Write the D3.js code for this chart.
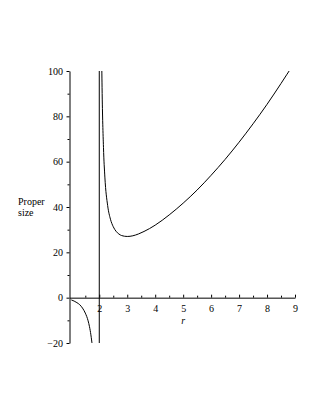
<!DOCTYPE html>
<html>
<head>
<meta charset="utf-8">
<script src="https://cdn.jsdelivr.net/npm/d3@7"></script>
<style>
  body { margin: 0; background: #fff; }
  svg { display: block; }
  .axis text { font-family: "Liberation Serif", "Times New Roman", serif; font-size: 10px; fill: #000; }
  .axis path, .axis line { stroke: #000; stroke-width: 1; }
</style>
</head>
<body>
<svg id="chart" width="321" height="415"></svg>
<script>
// values
var left_r    = [1, 1.1, 1.2, 1.3, 1.4, 1.5, 1.6, 1.65, 1.7, 1.75, 1.78];
var left_size = [-1, -1.5, -2.2, -3.1, -4.6, -6.8, -10.2, -12.8, -16.4, -21.4, -25.6];

var right_r    = [2.06, 2.08, 2.1, 2.15, 2.2, 2.3, 2.4, 2.5, 2.6, 2.7, 2.8, 3.0, 3.2, 3.4, 3.6, 3.8, 4, 4.5, 5, 5.5, 6, 6.5, 7, 7.5, 8, 8.5, 8.7, 8.8, 8.9];
var right_size = [145.7, 112.5, 92.6, 66.3, 53.2, 40.6, 34.6, 31.3, 29.3, 28.1, 27.4, 27, 27.3, 28.1, 29.2, 30.5, 32, 36.5, 41.7, 47.5, 54, 61, 68.6, 76.7, 85.3, 94.5, 98.3, 100.2, 102.2];

// the joining line across r = 2
var jump_r    = [2, 2];
var jump_size = [-20, 100];

var x_ticks = [2, 3, 4, 5, 6, 7, 8, 9];
var x_minor = [1.5, 2.5, 3.5, 4.5, 5.5, 6.5, 7.5, 8.5];
var y_ticks = [-20, 0, 20, 40, 60, 80, 100];
var y_minor = [-10, 10, 30, 50, 70, 90];

var svg = d3.select("#chart");

var x = d3.scaleLinear().domain([0.935, 9]).range([69.5, 295]);
var y = d3.scaleLinear().domain([-20, 100]).range([343, 71]);

function zip(a, b) {
    return a.map(function (d, i) { return [d, b[i]]; });
}

svg.append("defs").append("clipPath")
    .attr("id", "clip")
    .append("rect")
    .attr("x", x.range()[0])
    .attr("y", y(100))
    .attr("width", x.range()[1] - x.range()[0] + 2)
    .attr("height", y(-20) - y(100));

// x axis at size = 0
svg.append("g")
    .attr("class", "axis")
    .attr("transform", "translate(0," + y(0) + ")")
    .call(d3.axisBottom(x).tickValues(x_minor).tickSize(-2).tickSizeOuter(0).tickFormat(""))
    .call(function (g) { g.select(".domain").remove(); });

svg.append("g")
    .attr("class", "axis")
    .attr("transform", "translate(0," + y(0) + ")")
    .call(d3.axisBottom(x).tickValues(x_ticks).tickSize(-3).tickSizeOuter(0).tickPadding(7).tickFormat(d3.format("d")));

// y axis
svg.append("g")
    .attr("class", "axis")
    .attr("transform", "translate(" + x.range()[0] + ",0)")
    .call(d3.axisLeft(y).tickValues(y_minor).tickSize(2).tickSizeOuter(0).tickFormat(""))
    .call(function (g) { g.select(".domain").remove(); });

svg.append("g")
    .attr("class", "axis")
    .attr("transform", "translate(" + x.range()[0] + ",0)")
    .call(d3.axisLeft(y).tickValues(y_ticks).tickSize(3).tickSizeOuter(0).tickPadding(3.5)
        .tickFormat(function (d) { return d < 0 ? "\u2212" + (-d) : d; }));

var line = d3.line()
    .x(function (d) { return x(d[0]); })
    .y(function (d) { return y(d[1]); })
    .curve(d3.curveMonotoneX);

var curves = svg.append("g").attr("clip-path", "url(#clip)");

[zip(left_r, left_size), zip(right_r, right_size)].forEach(function (pts) {
    curves.append("path")
        .datum(pts)
        .attr("fill", "none")
        .attr("stroke", "#000")
        .attr("stroke-width", 1)
        .attr("d", line);
});

curves.append("path")
    .datum(zip(jump_r, jump_size))
    .attr("fill", "none")
    .attr("stroke", "#000")
    .attr("stroke-width", 1)
    .attr("d", d3.line().x(function (d) { return x(d[0]); }).y(function (d) { return y(d[1]); }));

// axis labels
svg.append("text")
    .attr("x", x(5))
    .attr("y", 324)
    .attr("text-anchor", "middle")
    .attr("font-family", "Liberation Serif, serif")
    .attr("font-style", "italic")
    .attr("font-size", 10)
    .text("r");

var ylab = svg.append("text")
    .attr("font-family", "Liberation Serif, serif")
    .attr("font-size", 10);
ylab.append("tspan").attr("x", 18).attr("y", 205).text("Proper");
ylab.append("tspan").attr("x", 18).attr("y", 216).text("size");
</script>
</body>
</html>
